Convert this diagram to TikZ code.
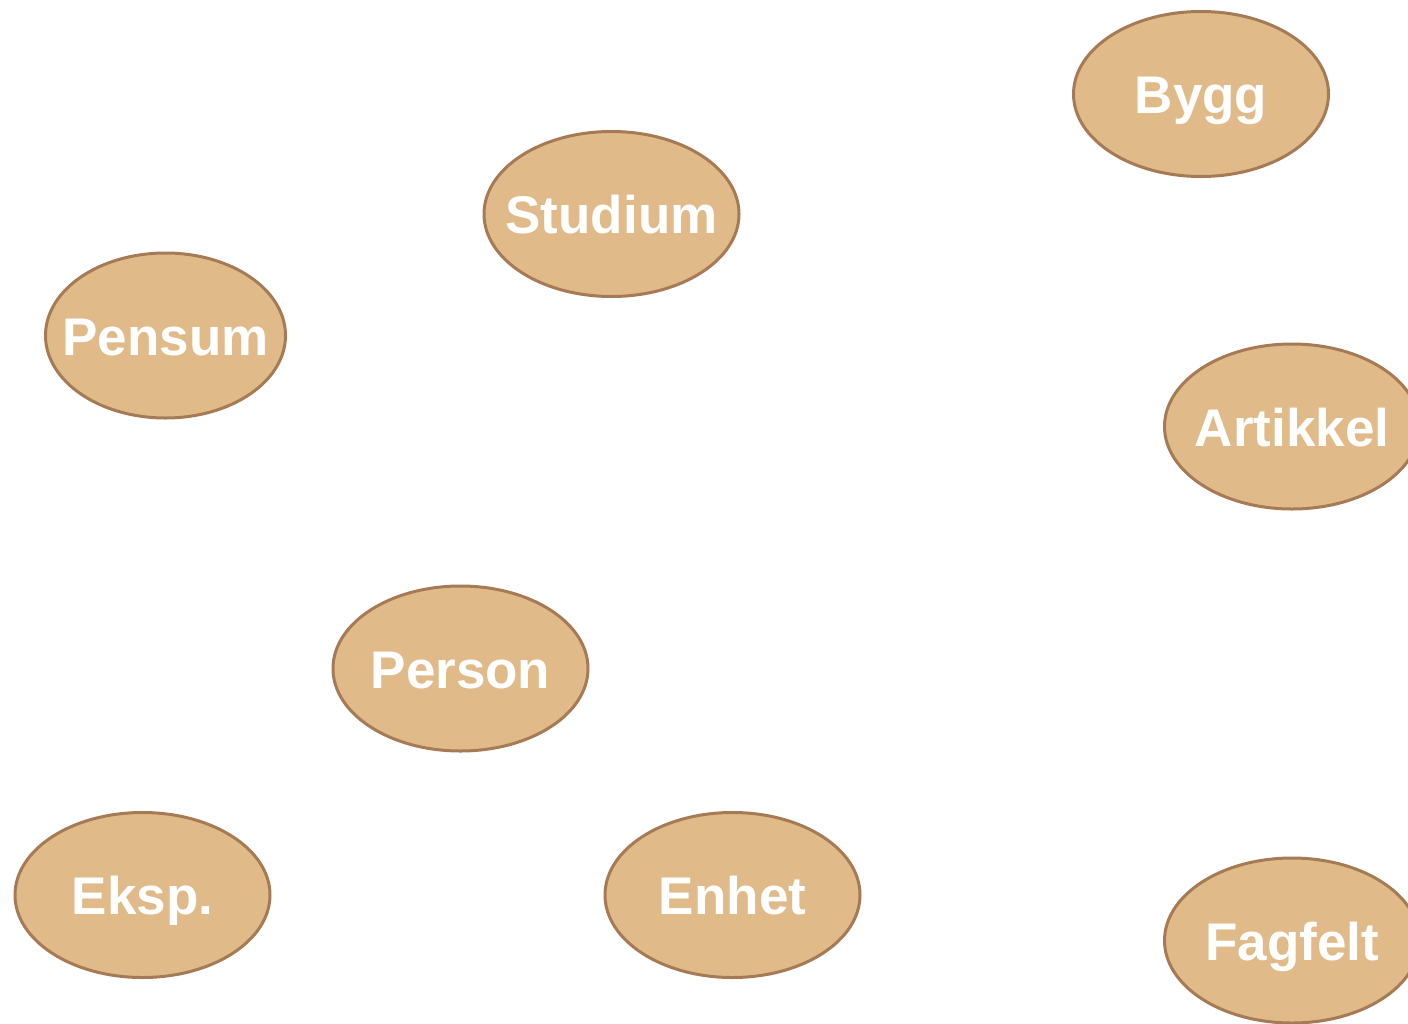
\documentclass[tikz,border=0pt]{standalone}
\usepackage{fontspec}
\setmainfont{Liberation Sans}
\usetikzlibrary{shapes.geometric}
\definecolor{efill}{HTML}{E1BA89}
\definecolor{edraw}{HTML}{A67A55}
\tikzset{
  ent/.style={ellipse, draw=edraw, fill=efill, line width=3pt, inner sep=0pt,
    minimum width=255pt, minimum height=165pt},
  lbl/.style={text=white, inner sep=0pt, anchor=base, font=\fontsize{53}{60}\selectfont\bfseries}}
\begin{document}
\begin{tikzpicture}[x=1pt,y=-1pt]
\useasboundingbox (0,0) rectangle (1408,1023);
\node[ent] (bygg) at (1201,94) {};
\node[lbl] (byggt) at ([yshift=-19.5pt]bygg.center) {Bygg};
\node[ent] (studium) at (611.5,214) {};
\node[lbl] (studiumt) at ([yshift=-19.5pt]studium.center) {Studium};
\node[ent, minimum width=240pt] (pensum) at (165.5,335.5) {};
\node[lbl] (pensumt) at ([yshift=-19.5pt]pensum.center) {Pensum};
\node[ent] (artikkel) at (1292,426.5) {};
\node[lbl] (artikkelt) at ([yshift=-19.5pt]artikkel.center) {Artikkel};
\node[ent] (person) at (460.5,668.5) {};
\node[lbl] (persont) at ([yshift=-19.5pt]person.center) {Person};
\node[ent] (eksp) at (142.5,895) {};
\node[lbl] (ekspt) at ([yshift=-19.5pt]eksp.center) {Eksp.};
\node[ent] (enhet) at (732.5,895) {};
\node[lbl] (enhett) at ([yshift=-19.5pt]enhet.center) {Enhet};
\node[ent] (fagfelt) at (1292,940.5) {};
\node[lbl] (fagfeltt) at ([yshift=-19.5pt]fagfelt.center) {Fagfelt};
\end{tikzpicture}
\end{document}
